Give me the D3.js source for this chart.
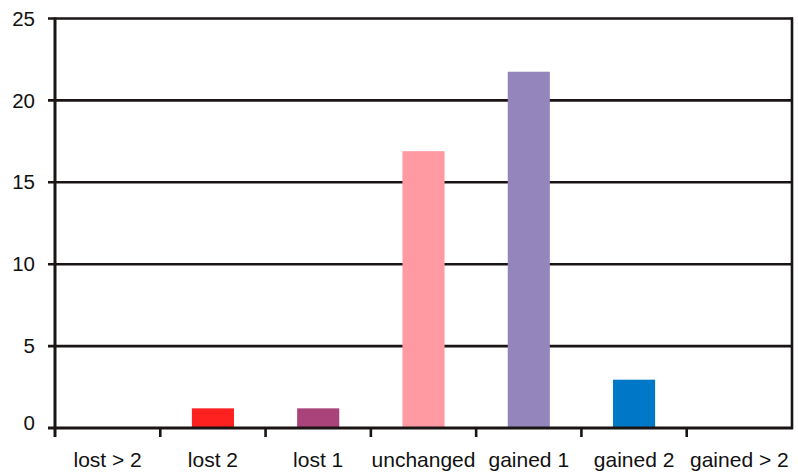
<!DOCTYPE html>
<html>
<head>
<meta charset="utf-8">
<script src="https://cdn.jsdelivr.net/npm/d3@7"></script>
<style>
  html, body { margin: 0; padding: 0; background: #fff; }
  svg { display: block; }
  text { font-family: "Liberation Sans", Arial, sans-serif; fill: #111; }
</style>
</head>
<body>
<svg id="chart" width="798" height="472"></svg>
<script>
// Change in score categories and their counts
const categories = ["lost > 2", "lost 2", "lost 1", "unchanged", "gained 1", "gained 2", "gained > 2"];
const counts = [0, 1.2, 1.2, 16.9, 21.75, 2.95, 0];
const barColors = ["#ff2020", "#ff2020", "#a9437a", "#ff9aa2", "#9486bc", "#0078c8", "#0078c8"];
const yTicks = [0, 5, 10, 15, 20, 25];

const svg = d3.select("#chart");
const plotLeft = 55, plotRight = 792, plotTop = 18.5, plotBottom = 428;

const x = d3.scaleBand().domain(categories).range([plotLeft, plotRight]).paddingInner(0).paddingOuter(0);
const y = d3.scaleLinear().domain([0, 25]).range([plotBottom, plotTop]);
const ink = "#1a1414";

// horizontal gridlines with short ticks to the left of the axis
svg.append("g")
  .selectAll("line")
  .data(yTicks.filter(d => d > 0))
  .join("line")
  .attr("x1", plotLeft - 7).attr("x2", plotRight + 1)
  .attr("y1", d => y(d)).attr("y2", d => y(d))
  .attr("stroke", ink).attr("stroke-width", 2.6);

// y axis labels
svg.append("g")
  .selectAll("text")
  .data(yTicks)
  .join("text")
  .attr("x", 35)
  .attr("y", d => y(d) - (d === 0 ? 5 : 0))
  .attr("dy", "0.35em")
  .attr("text-anchor", "end")
  .attr("font-size", 20.5)
  .text(d => d);

// bars drawn above the gridlines
const barW = x.bandwidth() * 0.4;
svg.append("g")
  .selectAll("rect")
  .data(categories.map((c, i) => ({ c, v: counts[i], col: barColors[i] })))
  .join("rect")
  .attr("x", d => x(d.c) + (x.bandwidth() - barW) / 2)
  .attr("width", barW)
  .attr("y", d => y(d.v))
  .attr("height", d => y(0) - y(d.v))
  .attr("fill", d => d.col);

// left and right frame lines
svg.append("line")
  .attr("x1", plotLeft).attr("x2", plotLeft)
  .attr("y1", plotTop - 1).attr("y2", plotBottom + 9)
  .attr("stroke", ink).attr("stroke-width", 3);
svg.append("line")
  .attr("x1", plotRight).attr("x2", plotRight)
  .attr("y1", plotTop - 1).attr("y2", plotBottom + 1)
  .attr("stroke", ink).attr("stroke-width", 2.6);

// x axis baseline and category dividers
svg.append("line")
  .attr("x1", plotLeft - 7).attr("x2", plotRight + 1)
  .attr("y1", y(0)).attr("y2", y(0))
  .attr("stroke", ink).attr("stroke-width", 3);
svg.append("g")
  .selectAll("line")
  .data(categories.slice(1))
  .join("line")
  .attr("x1", d => x(d)).attr("x2", d => x(d))
  .attr("y1", plotBottom).attr("y2", plotBottom + 9)
  .attr("stroke", ink).attr("stroke-width", 2.6);

// category labels
svg.append("g")
  .selectAll("text")
  .data(categories)
  .join("text")
  .attr("x", d => x(d) + x.bandwidth() / 2)
  .attr("y", 467)
  .attr("text-anchor", "middle")
  .attr("font-size", 21)
  .text(d => d);
</script>
</body>
</html>
